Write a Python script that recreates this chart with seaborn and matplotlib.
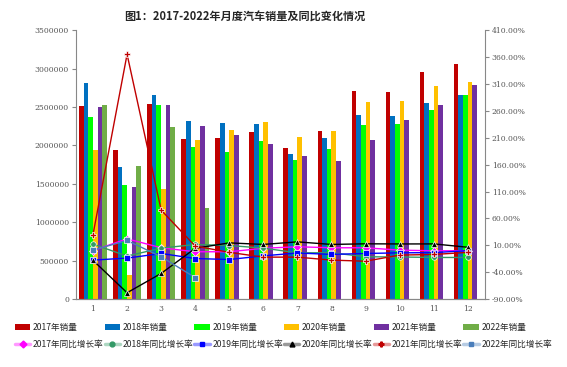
import numpy as np
import pandas as pd
import matplotlib.pyplot as plt
import seaborn as sns
from matplotlib.patches import Patch
from matplotlib.lines import Line2D
from matplotlib.colors import to_rgb
from matplotlib.ticker import FuncFormatter, MultipleLocator, FixedLocator

sns.set_style("white")
plt.rcParams['font.family'] = ['Noto Sans CJK SC', 'DejaVu Sans']

months = list(range(1, 13))
years = ["2017", "2018", "2019", "2020", "2021", "2022"]

# monthly sales (vehicles)
sales_2017 = [2515000, 1940000, 2540000, 2080000, 2095000, 2168000, 1969000, 2182000, 2706000, 2698000, 2954000, 3058000]
sales_2018 = [2810000, 1717000, 2654000, 2316000, 2286000, 2273000, 1887000, 2099000, 2394000, 2377000, 2546000, 2654000]
sales_2019 = [2368000, 1483000, 2520000, 1978000, 1913000, 2051000, 1809000, 1952000, 2268000, 2281000, 2455000, 2654000]
sales_2020 = [1940000, 308000, 1427000, 2069000, 2195000, 2299000, 2103000, 2182000, 2563000, 2572000, 2771000, 2828000]
sales_2021 = [2498000, 1453000, 2524000, 2251000, 2130000, 2012000, 1861000, 1800000, 2064000, 2329000, 2520000, 2780000]
sales_2022 = [2530000, 1735000, 2234000, 1184000]

# year-on-year growth (%)
yoy_2017 = [0.2, 22.1, 5.4, -2.0, -2.0, 4.5, 7.3, 5.4, 5.4, 1.0, -0.2, 0.0]
yoy_2018 = [12.2, -10.0, 4.7, 11.5, 9.6, 4.8, -4.0, -3.8, -11.3, -11.7, -12.6, -12.6]
yoy_2019 = [-17.5, -13.8, -5.2, -14.6, -16.4, -9.6, -4.3, -6.9, -5.2, -4.0, -3.6, 0.0]
yoy_2020 = [-18.0, -78.2, -42.3, 4.4, 14.5, 11.6, 16.4, 11.6, 12.8, 12.5, 12.6, 6.4]
yoy_2021 = [30.0, 365.0, 75.4, 8.6, -3.1, -12.0, -12.0, -17.5, -19.6, -8.2, -7.0, -3.2]
yoy_2022 = [1.0, 19.0, -11.3, -50.0]

bar_colors = ["#C00000", "#0070C0", "#00FF00", "#FFC000", "#7030A0", "#70AD47"]
line_colors = ["#FF00FF", "#339966", "#0000FF", "#000000", "#C00000", "#4A7EBB"]
line_markers = ["D", "o", "s", "^", "P", "s"]

sales = [sales_2017, sales_2018, sales_2019, sales_2020, sales_2021, sales_2022]
yoy = [yoy_2017, yoy_2018, yoy_2019, yoy_2020, yoy_2021, yoy_2022]

bar_rows = []
line_rows = []
for y, s, g in zip(years, sales, yoy):
    for i, v in enumerate(s):
        bar_rows.append({"month": months[i], "year": y, "sales": v})
    for i, v in enumerate(g):
        line_rows.append({"pos": i, "year": y, "yoy": v})
bars = pd.DataFrame(bar_rows)
lines = pd.DataFrame(line_rows)

fig = plt.figure(figsize=(5.67, 3.67), dpi=100)
ax = fig.add_axes([0.134, 0.185, 0.721, 0.733])

sns.barplot(data=bars, x="month", y="sales", hue="year", hue_order=years,
            palette=bar_colors, width=0.82, gap=0, ax=ax, legend=False,
            saturation=1, edgecolor="none")
ax.set_ylim(0, 3500000)
ax.set_xlim(-0.5, 11.5)
ax.yaxis.set_major_locator(MultipleLocator(500000))
ax.yaxis.set_major_formatter(FuncFormatter(lambda v, p: f"{int(round(v))}"))
ax.set_xlabel("")
ax.set_ylabel("")

ax2 = ax.twinx()
sns.lineplot(data=lines, x="pos", y="yoy", hue="year", style="year",
             hue_order=years, style_order=years,
             palette=dict(zip(years, line_colors)),
             markers=dict(zip(years, line_markers)), dashes=False,
             markersize=4, linewidth=1, markeredgewidth=0.5,
             ax=ax2, legend=False)
ax2.set_ylim(-90, 410)
ax2.yaxis.set_major_locator(FixedLocator(np.arange(-90, 411, 50)))
ax2.yaxis.set_major_formatter(FuncFormatter(lambda v, p: f"{v:.2f}%"))
ax2.set_xlim(-0.5, 11.5)
ax2.set_xlabel("")
ax2.set_ylabel("")

grey = "#888888"
for a in (ax, ax2):
    a.spines["top"].set_visible(False)
    for side in ("left", "right", "bottom"):
        a.spines[side].set_color(grey)
        a.spines[side].set_linewidth(0.8)
ax.spines["right"].set_visible(False)
ax2.spines["left"].set_visible(False)

ax.set_xticks(range(12))
ax.set_xticklabels([str(m) for m in months])
ax.set_xticks(np.arange(-0.5, 12, 1), minor=True)
ax.tick_params(axis="x", which="major", length=0, pad=4)
ax.tick_params(axis="x", which="minor", length=3, color=grey)
for a in (ax, ax2):
    a.tick_params(axis="both", which="major", labelsize=5.5, labelcolor="#555555",
                  labelfontfamily="DejaVu Serif")
    a.tick_params(axis="y", length=3, color=grey, pad=2)

fig.text(0.432, 0.952, "图1：2017-2022年月度汽车销量及同比变化情况",
         ha="center", va="center", fontsize=8, fontweight="bold")

handles = []
labels = []
for y, bc, lc, m in zip(years, bar_colors, line_colors, line_markers):
    handles.append(Patch(facecolor=bc, edgecolor="none"))
    labels.append(f"{y}年销量")
    r, g, b = to_rgb(lc)
    handles.append(Line2D([], [], color=(r, g, b, 0.4), linewidth=2.5, marker=m,
                          markersize=3.5, markerfacecolor=lc, markeredgecolor=lc))
    labels.append(f"{y}年同比增长率")

fig.legend(handles, labels, ncol=6, loc="center", bbox_to_anchor=(0.5, 0.085),
           frameon=False, fontsize=6.2, handlelength=1.8, handletextpad=0.3,
           columnspacing=0.1, labelspacing=0.9, handleheight=0.8)

fig.savefig("out.png", dpi=100)
